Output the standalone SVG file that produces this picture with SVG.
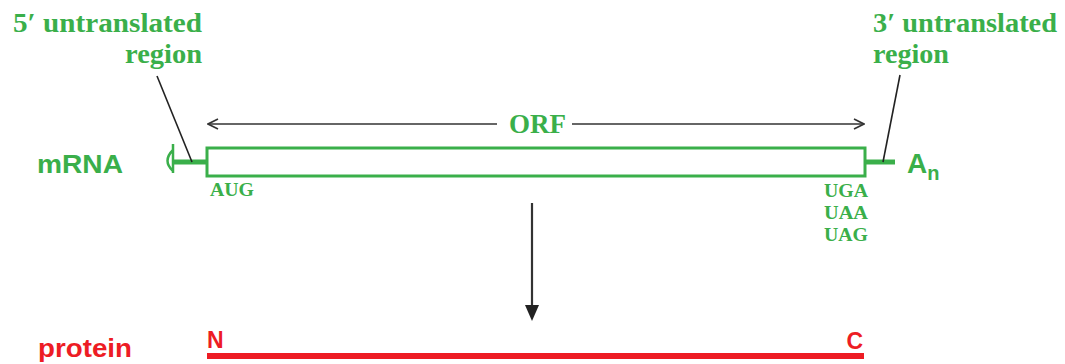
<svg xmlns="http://www.w3.org/2000/svg" width="1065" height="364" viewBox="0 0 1065 364">
<style>
.g{fill:#3aaf4a}
.r{fill:#ed1c24}
.serif{font-family:"Liberation Serif","Times New Roman",serif;font-weight:bold}
.sans{font-family:"Liberation Sans",Arial,sans-serif;font-weight:bold}
.lead{stroke:#222;stroke-width:1.6;fill:none}
.dark{stroke:#333;stroke-width:1.6;fill:none}
</style>
<defs>
<marker id="open" viewBox="0 0 12 12" refX="11" refY="6" markerWidth="12" markerHeight="12" markerUnits="userSpaceOnUse" orient="auto-start-reverse">
<path d="M1,1 L11,6 L1,11" fill="none" stroke="#333" stroke-width="1.6"/>
</marker>
</defs>
<g id="labels5">
<text class="serif g" x="13" y="32" font-size="28" textLength="189" lengthAdjust="spacingAndGlyphs">5′ untranslated</text>
<text class="serif g" x="202" y="63" font-size="28" text-anchor="end" textLength="77" lengthAdjust="spacingAndGlyphs">region</text>
</g>
<g id="labels3">
<text class="serif g" x="873" y="32" font-size="28" textLength="184" lengthAdjust="spacingAndGlyphs">3′ untranslated</text>
<text class="serif g" x="873" y="63" font-size="28" textLength="76" lengthAdjust="spacingAndGlyphs">region</text>
</g>
<g id="mrna">
<text class="sans g" x="37" y="173" font-size="26" textLength="86" lengthAdjust="spacingAndGlyphs">mRNA</text>
<path d="M173,144 L173,173 M173,150 Q162,161 173,171" stroke="#3aaf4a" stroke-width="2.5" fill="none"/>
<line x1="173" y1="162" x2="207" y2="162" stroke="#3aaf4a" stroke-width="5"/>
<rect x="207" y="148" width="658" height="28" fill="none" stroke="#3aaf4a" stroke-width="3"/>
<line x1="865" y1="162" x2="895" y2="162" stroke="#3aaf4a" stroke-width="5"/>
<text class="sans g" x="907" y="173" font-size="28">A<tspan font-size="20" dy="7">n</tspan></text>
<text class="serif g" x="210" y="196" font-size="19" textLength="44" lengthAdjust="spacingAndGlyphs">AUG</text>
<text class="serif g" x="824" y="197" font-size="19" textLength="44" lengthAdjust="spacingAndGlyphs">UGA</text>
<text class="serif g" x="824" y="219" font-size="19" textLength="44" lengthAdjust="spacingAndGlyphs">UAA</text>
<text class="serif g" x="824" y="241" font-size="19" textLength="44" lengthAdjust="spacingAndGlyphs">UAG</text>
</g>
<g id="orf">
<text class="serif g" x="537.5" y="133" font-size="27" text-anchor="middle">ORF</text>
</g>
<g id="protein">
<text class="sans r" x="38" y="357" font-size="26" textLength="94" lengthAdjust="spacingAndGlyphs">protein</text>
<text class="sans r" x="207" y="348" font-size="23">N</text>
<text class="sans r" x="863" y="349" font-size="23" text-anchor="end">C</text>
<line x1="207" y1="356" x2="864" y2="356" stroke="#ed1c24" stroke-width="6"/>
</g>
<g id="connectors">
<line class="lead" x1="157" y1="76" x2="192" y2="162"/>
<line class="lead" x1="900" y1="75" x2="883" y2="162"/>
<line class="dark" x1="497" y1="124" x2="208" y2="124" marker-end="url(#open)"/>
<line class="dark" x1="572" y1="124" x2="864" y2="124" marker-end="url(#open)"/>
<line x1="532" y1="203" x2="532" y2="306" stroke="#333" stroke-width="2.2"/>
<path d="M525,305 L539,305 L532,321 Z" fill="#222"/>
</g>
</svg>
